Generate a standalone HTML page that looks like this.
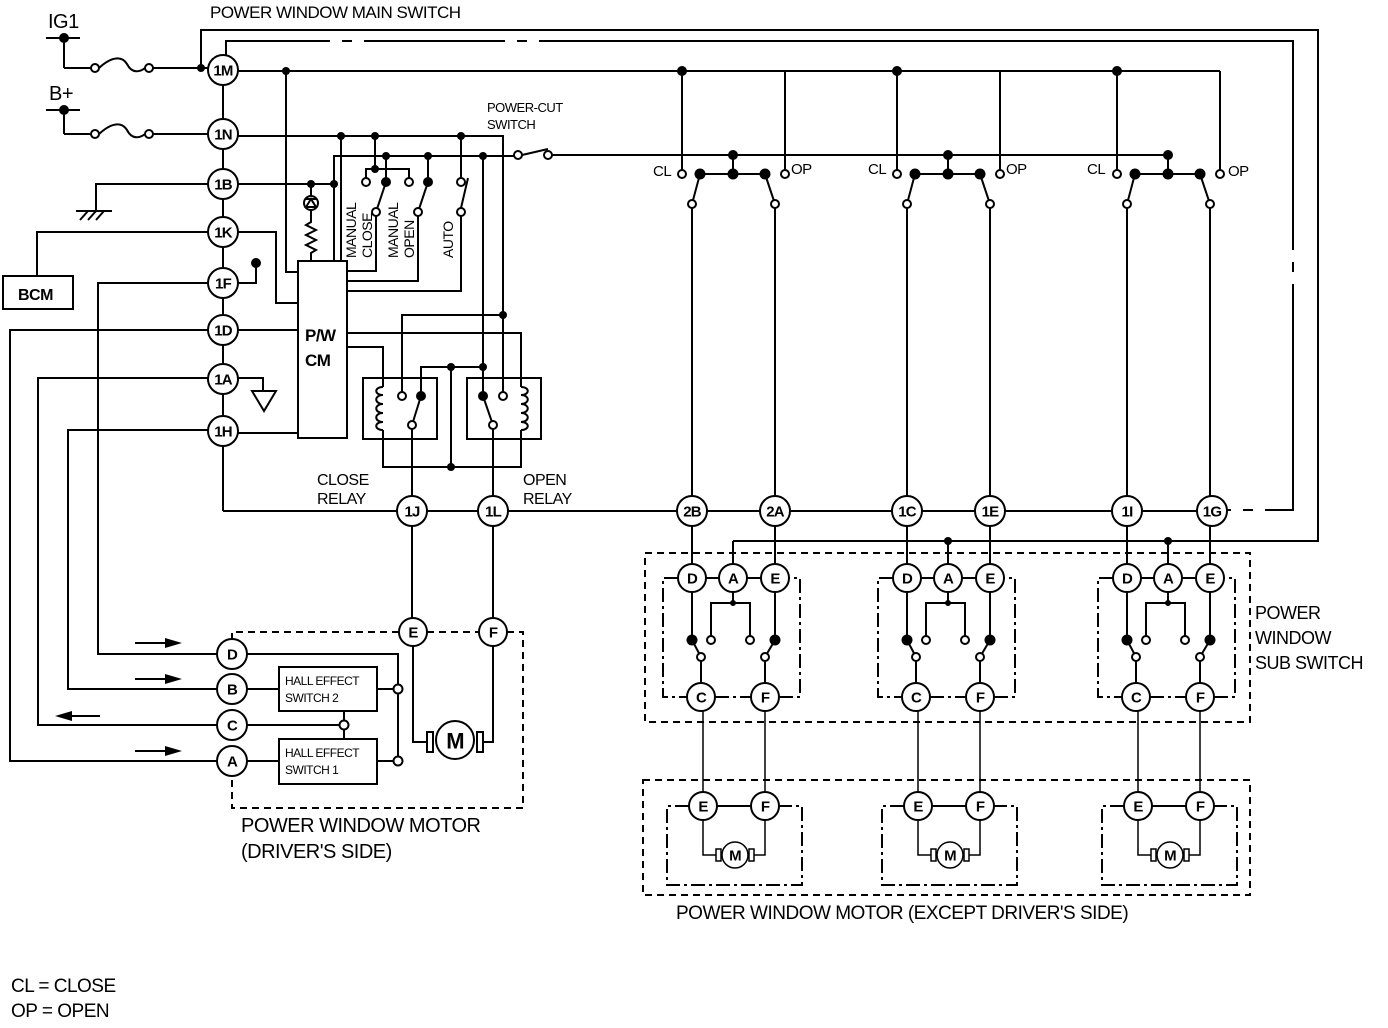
<!DOCTYPE html>
<html><head><meta charset="utf-8"><style>
html,body{margin:0;padding:0;background:#fff}
svg{display:block}
text{font-family:"Liberation Sans",Arial,sans-serif;fill:#000}
.c{font-size:15px;text-anchor:middle;dominant-baseline:central;letter-spacing:-0.8px}
.l{font-size:18px;letter-spacing:-0.5px}
.s{font-size:13px;letter-spacing:-0.5px}
</style></head><body>
<svg width="1388" height="1028" viewBox="0 0 1388 1028" xmlns="http://www.w3.org/2000/svg">
<defs>
<g id="topsw" stroke="#000" stroke-width="2" fill="none">
 <line x1="682" y1="71" x2="682" y2="170"/>
 <line x1="785" y1="71" x2="785" y2="170"/>
 <line x1="700" y1="174" x2="765" y2="174"/>
 <line x1="733" y1="155" x2="733" y2="174"/>
 <line x1="692" y1="204" x2="700" y2="174"/>
 <line x1="775" y1="204" x2="765" y2="174"/>
 <line x1="692" y1="208" x2="692" y2="496"/>
 <line x1="775" y1="208" x2="775" y2="496"/>
 <circle cx="682" cy="174" r="4" fill="#fff"/>
 <circle cx="785" cy="174" r="4" fill="#fff"/>
 <circle cx="692" cy="204" r="4" fill="#fff"/>
 <circle cx="775" cy="204" r="4" fill="#fff"/>
 <circle cx="700" cy="174" r="4.5" fill="#000"/>
 <circle cx="733" cy="174" r="4.5" fill="#000"/>
 <circle cx="765" cy="174" r="4.5" fill="#000"/>
 <circle cx="682" cy="71" r="4" fill="#000"/>
 <circle cx="733" cy="155" r="4" fill="#000"/>
</g>
<g id="subsw" stroke="#000" stroke-width="2" fill="none">
 <line x1="692" y1="526" x2="692" y2="564"/>
 <line x1="775" y1="526" x2="775" y2="564"/>
 <line x1="733" y1="541" x2="733" y2="564"/>
 <path d="M678,578 H663 V697 H687 M715,697 H751 M779,697 H800 V578 H789" stroke-dasharray="14 4 3 4"/>
 <line x1="706" y1="578" x2="719" y2="578"/>
 <line x1="747" y1="578" x2="761" y2="578"/>
 <circle cx="692" cy="578" r="14" fill="#fff"/>
 <circle cx="733" cy="578" r="14" fill="#fff"/>
 <circle cx="775" cy="578" r="14" fill="#fff"/>
 <path d="M733,592 V603 M711,636 V603 H750 V636"/>
 <circle cx="733" cy="603" r="2" fill="#000"/>
 <circle cx="711" cy="640" r="4" fill="#fff"/>
 <circle cx="750" cy="640" r="4" fill="#fff"/>
 <line x1="692" y1="592" x2="692" y2="640"/>
 <line x1="775" y1="592" x2="775" y2="640"/>
 <line x1="692" y1="640" x2="701" y2="657"/>
 <line x1="775" y1="640" x2="765" y2="657"/>
 <circle cx="692" cy="640" r="4.5" fill="#000"/>
 <circle cx="775" cy="640" r="4.5" fill="#000"/>
 <circle cx="701" cy="657" r="4" fill="#fff"/>
 <circle cx="765" cy="657" r="4" fill="#fff"/>
 <line x1="701" y1="661" x2="701" y2="683"/>
 <line x1="765" y1="661" x2="765" y2="683"/>
 <circle cx="701" cy="697" r="14" fill="#fff"/>
 <circle cx="765" cy="697" r="14" fill="#fff"/>
 <line x1="703" y1="711" x2="703" y2="792" stroke-width="1.5"/>
 <line x1="765" y1="711" x2="765" y2="792" stroke-width="1.5"/>
 <path d="M689,806 H667 V885 H802 V806 H779" stroke-dasharray="14 4 3 4"/>
 <line x1="717" y1="806" x2="751" y2="806"/>
 <circle cx="703" cy="806" r="14" fill="#fff"/>
 <circle cx="765" cy="806" r="14" fill="#fff"/>
 <path d="M703,820 V855 H716 M765,820 V855 H754" stroke-width="1.5"/>
 <rect x="716" y="849" width="5" height="12" fill="#fff" stroke-width="1.5"/>
 <rect x="749" y="849" width="5" height="12" fill="#fff" stroke-width="1.5"/>
 <circle cx="735" cy="855" r="13" fill="#fff" stroke-width="1.5"/>
</g>
</defs>

<g stroke="#000" stroke-width="2" fill="none">
<path d="M201,68 V30 H1318 V541 H733"/>
<path d="M226,55 V41 H330 M342,41 H352 M364,41 H505 M517,41 H527 M539,41 H1293 V250 M1293,262 V272 M1293,284 V510 H1265 M1253,510 H1243 M1231,510 H1227"/>
<line x1="46" y1="38" x2="80" y2="38"/><line x1="64" y1="38" x2="64" y2="68"/>
<path d="M64,68 H91 M99,68 C112,56 122,56 127,64 C132,74 140,72 145,68 M153,68 H208"/>
<line x1="46" y1="110" x2="80" y2="110"/><line x1="64" y1="110" x2="64" y2="134"/>
<path d="M64,134 H91 M99,134 C112,122 122,122 127,130 C132,140 140,138 145,134 M153,134 H208"/>
<line x1="223" y1="85" x2="223" y2="511"/>
<line x1="223" y1="511" x2="1212" y2="511"/>
<line x1="238" y1="71" x2="1220" y2="71"/>
<line x1="1220" y1="71" x2="1220" y2="170"/>
<path d="M238,136 H503 V391"/>
<path d="M334,184 V156 H515 M522,155 L548,149 M552,155 H1168 V174"/>
<path d="M208,184 H96 V211"/>
<path d="M76,211 H112 M80,220 L88,211 M88,220 L96,211 M96,220 L104,211"/>
<line x1="238" y1="184" x2="334" y2="184"/>
<path d="M311,184 V196 M311,210 V222 L306,225 L316,230 L306,235 L316,240 L306,245 L316,250 L311,253 V261"/>
<circle cx="311" cy="203" r="7"/>
<path d="M306,207 L311,199 L316,207 Z M305,199 H317"/>
<path d="M37,276 V232 H208 M238,232 H276 V303 H298"/>
<rect x="3" y="276" width="70" height="33"/>
<path d="M238,283 H256 V262"/>
<path d="M238,330 H298 M208,330 H10 V761 H218"/>
<path d="M238,378 H263 V391 M252,391 H276 L264,411 Z"/>
<path d="M208,378 H38 V725 H218"/>
<path d="M238,433 H298 M208,430 H68 V689 H218"/>
<path d="M208,283 H98 V654 H218"/>
<path d="M286,71 V272 H298"/>
<rect x="298" y="261" width="49" height="177"/>
<line x1="341" y1="136" x2="341" y2="261"/>
<line x1="334" y1="184" x2="334" y2="261"/>
<path d="M375,136 V169 M366,178 V169 H409 V178 M386,156 V182 M428,156 V182"/>
<line x1="386" y1="182" x2="376" y2="212"/>
<line x1="428" y1="182" x2="418" y2="212"/>
<path d="M376,216 V271 H347 M418,216 V281 H347 M461,216 V291 H347"/>
<path d="M461,136 V178 M461,208 L468,178"/>
<path d="M347,347 H383 V387 M383,430 V467 H521 V430 M521,387 V333 H347"/>
<path d="M402,392 V315 H503 M503,315 V392"/>
<path d="M483,156 V392 M421,392 V367 H483 M451,367 V467"/>
<line x1="421" y1="396" x2="412" y2="425"/>
<line x1="483" y1="396" x2="493" y2="425"/>
<path d="M412,429 V496 M493,429 V496"/>
<rect x="363" y="378" width="74" height="61"/>
<rect x="467" y="378" width="74" height="61"/>
<path d="M383,387 c-9,0 -9,8 0,8 c-9,0 -9,9 0,9 c-9,0 -9,9 0,9 c-9,0 -9,9 0,9 c-9,0 -9,8 0,8"/>
<path d="M521,387 c9,0 9,8 0,8 c9,0 9,9 0,9 c9,0 9,9 0,9 c9,0 9,9 0,9 c9,0 9,8 0,8"/>
<path d="M412,526 V618 M493,526 V618"/>
<path d="M232,640 V632 H399 M427,632 H479 M507,632 H523 V808 H232 V775" stroke-dasharray="7 5"/>
<path d="M246,654 H398 V761 M246,689 H279 M377,689 H394 M246,725 H340 M344,711 V739 M246,761 H279 M377,761 H394"/>
<rect x="279" y="667" width="98" height="44"/>
<rect x="279" y="739" width="98" height="45"/>
<path d="M413,646 V742 H427 M493,646 V742 H483"/>
<rect x="427" y="732" width="6" height="20" fill="#fff"/>
<rect x="477" y="732" width="6" height="20" fill="#fff"/>
<circle cx="455" cy="740" r="19" fill="#fff"/>
<path d="M135,643 H165 M135,679 H165 M135,751 H165 M72,716 H100"/>
<rect x="645" y="553" width="605" height="169" stroke-dasharray="7 5"/>
<rect x="643" y="780" width="607" height="115" stroke-dasharray="7 5"/>
</g>
<g fill="#000">
<polygon points="165,638 182,643 165,648"/>
<polygon points="165,674 182,679 165,684"/>
<polygon points="165,746 182,751 165,756"/>
<polygon points="72,711 55,716 72,721"/>
<circle cx="64" cy="38" r="5"/><circle cx="64" cy="110" r="5"/>
<circle cx="201" cy="68" r="4"/><circle cx="286" cy="71" r="4"/>
<circle cx="341" cy="136" r="4"/><circle cx="375" cy="136" r="4"/><circle cx="461" cy="136" r="4"/>
<circle cx="386" cy="156" r="4"/><circle cx="428" cy="156" r="4"/><circle cx="483" cy="156" r="4"/>
<circle cx="375" cy="169" r="4"/><circle cx="334" cy="184" r="4"/><circle cx="311" cy="184" r="4"/>
<circle cx="386" cy="182" r="5"/><circle cx="428" cy="182" r="5"/>
<circle cx="256" cy="263" r="5"/>
<circle cx="503" cy="315" r="4"/><circle cx="451" cy="367" r="4"/><circle cx="483" cy="367" r="4"/><circle cx="451" cy="467" r="4"/>
<circle cx="421" cy="396" r="5"/><circle cx="483" cy="396" r="5"/>
<circle cx="948" cy="541" r="4"/><circle cx="1168" cy="541" r="4"/>
</g>
<g stroke="#000" stroke-width="2" fill="#fff">
<circle cx="95" cy="68" r="4"/><circle cx="149" cy="68" r="4"/>
<circle cx="95" cy="134" r="4"/><circle cx="149" cy="134" r="4"/>
<circle cx="518" cy="155" r="4"/><circle cx="548" cy="155" r="4"/>
<circle cx="366" cy="182" r="4"/><circle cx="409" cy="182" r="4"/>
<circle cx="376" cy="212" r="4"/><circle cx="418" cy="212" r="4"/>
<circle cx="461" cy="182" r="4"/><circle cx="461" cy="212" r="4"/>
<circle cx="402" cy="396" r="4"/><circle cx="503" cy="396" r="4"/>
<circle cx="412" cy="425" r="4"/><circle cx="493" cy="425" r="4"/>
<circle cx="398" cy="689" r="4.5"/><circle cx="398" cy="761" r="4.5"/><circle cx="344" cy="725" r="4.5"/>
</g>
<use href="#topsw"/>
<use href="#topsw" transform="translate(215,0)"/>
<use href="#topsw" transform="translate(435,0)"/>
<use href="#subsw"/>
<use href="#subsw" transform="translate(215,0)"/>
<use href="#subsw" transform="translate(435,0)"/>
<g stroke="#000" stroke-width="2" fill="#fff">
<circle cx="223" cy="70" r="15"/><circle cx="223" cy="134" r="15"/><circle cx="223" cy="184" r="15"/>
<circle cx="223" cy="232" r="15"/><circle cx="223" cy="283" r="15"/><circle cx="223" cy="330" r="15"/>
<circle cx="223" cy="379" r="15"/><circle cx="223" cy="431" r="15"/>
<circle cx="412" cy="511" r="15"/><circle cx="493" cy="511" r="15"/>
<circle cx="692" cy="511" r="15"/><circle cx="775" cy="511" r="15"/>
<circle cx="907" cy="511" r="15"/><circle cx="990" cy="511" r="15"/>
<circle cx="1127" cy="511" r="15"/><circle cx="1212" cy="511" r="15"/>
<circle cx="232" cy="654" r="15"/><circle cx="232" cy="689" r="15"/><circle cx="232" cy="725" r="15"/><circle cx="232" cy="761" r="15"/>
<circle cx="413" cy="632" r="14"/><circle cx="493" cy="632" r="14"/>
</g>
<g font-weight="bold">
<text x="223" y="71" class="c">1M</text><text x="223" y="135" class="c">1N</text><text x="223" y="185" class="c">1B</text>
<text x="223" y="233" class="c">1K</text><text x="223" y="284" class="c">1F</text><text x="223" y="331" class="c">1D</text>
<text x="223" y="380" class="c">1A</text><text x="223" y="432" class="c">1H</text>
<text x="412" y="512" class="c">1J</text><text x="493" y="512" class="c">1L</text>
<text x="692" y="512" class="c">2B</text><text x="775" y="512" class="c">2A</text>
<text x="907" y="512" class="c">1C</text><text x="990" y="512" class="c">1E</text>
<text x="1127" y="512" class="c">1I</text><text x="1212" y="512" class="c">1G</text>
</g>
<g font-weight="bold">
<text x="232" y="655" class="c">D</text><text x="232" y="690" class="c">B</text>
<text x="232" y="726" class="c">C</text><text x="232" y="762" class="c">A</text>
<text x="413" y="633" class="c">E</text><text x="493" y="633" class="c">F</text>
<text x="455" y="741" class="c" style="font-size:22px">M</text>
<text x="692" y="579" class="c">D</text><text x="733" y="579" class="c">A</text><text x="775" y="579" class="c">E</text>
<text x="701" y="698" class="c">C</text><text x="765" y="698" class="c">F</text>
<text x="703" y="807" class="c">E</text><text x="765" y="807" class="c">F</text>
<text x="735" y="856" class="c" style="font-size:15px">M</text>
<text x="907" y="579" class="c">D</text><text x="948" y="579" class="c">A</text><text x="990" y="579" class="c">E</text>
<text x="916" y="698" class="c">C</text><text x="980" y="698" class="c">F</text>
<text x="918" y="807" class="c">E</text><text x="980" y="807" class="c">F</text>
<text x="950" y="856" class="c" style="font-size:15px">M</text>
<text x="1127" y="579" class="c">D</text><text x="1168" y="579" class="c">A</text><text x="1210" y="579" class="c">E</text>
<text x="1136" y="698" class="c">C</text><text x="1200" y="698" class="c">F</text>
<text x="1138" y="807" class="c">E</text><text x="1200" y="807" class="c">F</text>
<text x="1170" y="856" class="c" style="font-size:15px">M</text>
</g>
<text x="210" y="18" class="l" style="font-size:17px">POWER WINDOW MAIN SWITCH</text>
<text x="48" y="28" class="l" style="font-size:20px">IG1</text>
<text x="49" y="100" class="l" style="font-size:20px">B+</text>
<text x="18" y="300" class="l" style="font-size:16px;font-weight:bold">BCM</text>
<text x="305" y="341" class="l" style="font-size:17px;font-weight:bold">P/W</text>
<text x="305" y="366" class="l" style="font-size:17px;font-weight:bold">CM</text>
<text x="487" y="112" class="s">POWER-CUT</text>
<text x="487" y="129" class="s">SWITCH</text>
<text transform="translate(356,258) rotate(-90)" class="s" style="font-size:14px">MANUAL</text>
<text transform="translate(372,258) rotate(-90)" class="s" style="font-size:14px">CLOSE</text>
<text transform="translate(398,258) rotate(-90)" class="s" style="font-size:14px">MANUAL</text>
<text transform="translate(414,258) rotate(-90)" class="s" style="font-size:14px">OPEN</text>
<text transform="translate(453,258) rotate(-90)" class="s" style="font-size:14px">AUTO</text>
<text x="317" y="485" class="l" style="font-size:16px">CLOSE</text>
<text x="317" y="504" class="l" style="font-size:16px">RELAY</text>
<text x="523" y="485" class="l" style="font-size:16px">OPEN</text>
<text x="523" y="504" class="l" style="font-size:16px">RELAY</text>
<text x="285" y="685" class="s" style="font-size:12px">HALL EFFECT</text>
<text x="285" y="702" class="s" style="font-size:12px">SWITCH 2</text>
<text x="285" y="757" class="s" style="font-size:12px">HALL EFFECT</text>
<text x="285" y="774" class="s" style="font-size:12px">SWITCH 1</text>
<text x="241" y="832" class="l" style="font-size:20px">POWER WINDOW MOTOR</text>
<text x="241" y="858" class="l" style="font-size:20px">(DRIVER'S SIDE)</text>
<text x="653" y="176" class="l" style="font-size:15px">CL</text>
<text x="791" y="174" class="l" style="font-size:15px">OP</text>
<text x="868" y="174" class="l" style="font-size:15px">CL</text>
<text x="1006" y="174" class="l" style="font-size:15px">OP</text>
<text x="1087" y="174" class="l" style="font-size:15px">CL</text>
<text x="1228" y="176" class="l" style="font-size:15px">OP</text>
<text x="1255" y="619" class="l">POWER</text>
<text x="1255" y="644" class="l">WINDOW</text>
<text x="1255" y="669" class="l">SUB SWITCH</text>
<text x="676" y="919" class="l" style="font-size:19px">POWER WINDOW MOTOR (EXCEPT DRIVER'S SIDE)</text>
<text x="11" y="992" class="l" style="font-size:19px">CL = CLOSE</text>
<text x="11" y="1017" class="l" style="font-size:19px">OP = OPEN</text>
</svg>
</body></html>
